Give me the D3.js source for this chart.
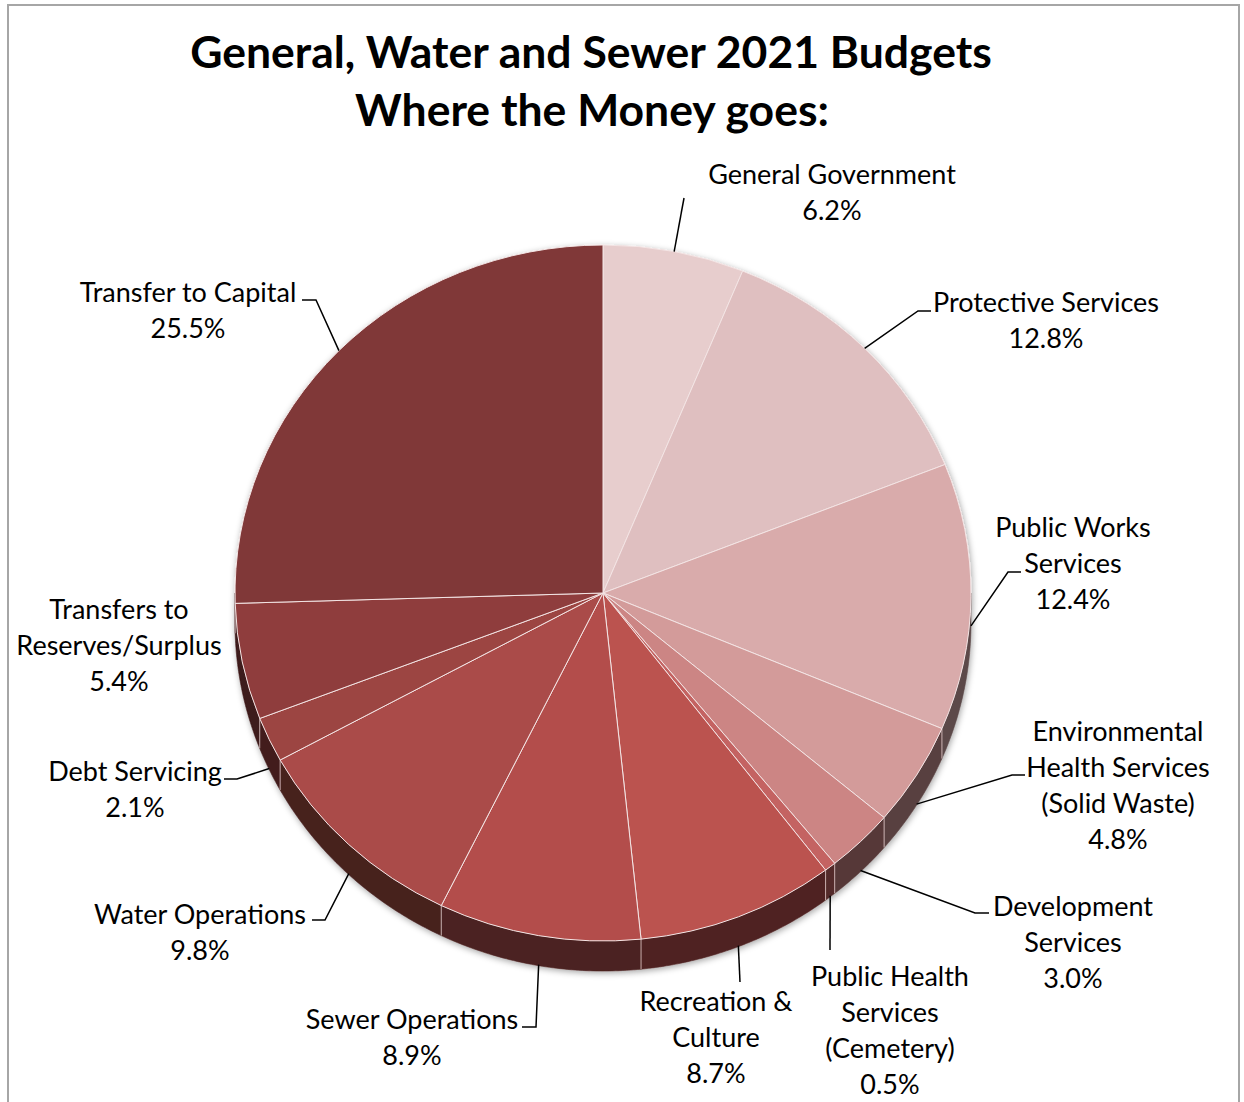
<!DOCTYPE html>
<html>
<head>
<meta charset="utf-8">
<script src="https://cdn.jsdelivr.net/npm/d3@7"></script>
<style>
  html, body { margin: 0; padding: 0; background: #fff; }
  svg { display: block; }
</style>
</head>
<body>
<svg id="chart" width="1244" height="1102"></svg>
<script>
// ---- data ----
const categories = [
  "General Government", "Protective Services", "Public Works Services",
  "Environmental Health Services (Solid Waste)", "Development Services",
  "Public Health Services (Cemetery)", "Recreation & Culture", "Sewer Operations",
  "Water Operations", "Debt Servicing", "Transfers to Reserves/Surplus", "Transfer to Capital"
];
const values = [6.2, 12.8, 12.4, 4.8, 3.0, 0.5, 8.7, 8.9, 9.8, 2.1, 5.4, 25.5];
const labelLines = [
  ["General Government"], ["Protective Services"], ["Public Works", "Services"],
  ["Environmental", "Health Services", "(Solid Waste)"], ["Development", "Services"],
  ["Public Health", "Services", "(Cemetery)"], ["Recreation &", "Culture"], ["Sewer Operations"],
  ["Water Operations"], ["Debt Servicing"], ["Transfers to", "Reserves/Surplus"], ["Transfer to Capital"]
];
const colors = ["#e7cdcd", "#dfbfc0", "#d9abab", "#d39b9a", "#cc8584", "#c46462",
                "#bb524f", "#b34e4b", "#aa4b49", "#9c4543", "#8f3e3d", "#803838"];
const titleLines = ["General, Water and Sewer 2021 Budgets", "Where the Money goes:"];

// ---- layout (positions only) ----
const labelPos = [ // [center x, first line center y]
  [832, 174], [1046, 302], [1073, 527], [1118, 731], [1073, 906], [890, 976],
  [716, 1001], [412, 1019], [200, 914], [135, 771], [119, 609], [188, 292]
];
const leaderPts = [
  [[684, 198]], [[918, 311], [931, 311]], [[1008, 572], [1021, 572]],
  [[1012, 775], [1025, 775]], [[975, 913], [989, 913]], [[830, 950]],
  [[740, 982]], [[536, 1027], [522, 1027]], [[325, 920], [312, 920]],
  [[237, 779], [224, 779]], null, [[316, 300], [302, 300]]
];

const W = 1244, H = 1102;
const cx = 603, cy = 593, rx = 368, ry = 348, depth = 30;
const FONT = "Lato, 'Open Sans', sans-serif";

const svg = d3.select("#chart");
const defs = svg.append("defs");
const flt = defs.append("filter").attr("id", "shadow")
  .attr("x", "-10%").attr("y", "-10%").attr("width", "120%").attr("height", "120%");
flt.append("feDropShadow").attr("dx", 1).attr("dy", 2).attr("stdDeviation", 3)
  .attr("flood-color", "#000").attr("flood-opacity", 0.35);

// frame
svg.append("rect").attr("x", 8).attr("y", 5).attr("width", 1231).attr("height", 1110)
  .attr("fill", "none").attr("stroke", "#a6a6a6").attr("stroke-width", 2);

// title
const title = svg.append("g").attr("font-family", FONT).attr("font-weight", 700)
  .attr("text-anchor", "middle").attr("fill", "#000");
const t1 = title.append("text").attr("x", 591).attr("y", 68).text(titleLines[0]);
const t2 = title.append("text").attr("x", 592).attr("y", 126).text(titleLines[1]);
// fit title size to reference width
t1.attr("font-size", 40);
const w1 = t1.node().getComputedTextLength();
const fs = 40 * 802 / w1;
t1.attr("font-size", fs); t2.attr("font-size", fs);

// pie
const pie = d3.pie().sort(null).value(d => d)(values);
const pt = (a, dy = 0) => [cx + rx * Math.sin(a), cy - ry * Math.cos(a) + dy];

const g = svg.append("g").attr("filter", "url(#shadow)");

// side walls (front half only: angles between PI/2 and 3PI/2)
const sideG = g.append("g");
const lo = Math.PI / 2, hi = 3 * Math.PI / 2;
pie.forEach((p, i) => {
  const a0 = Math.max(p.startAngle, lo), a1 = Math.min(p.endAngle, hi);
  if (a1 <= a0) return;
  const n = Math.max(4, Math.ceil((a1 - a0) / 0.01));
  const top = d3.range(n + 1).map(k => pt(a0 + (a1 - a0) * k / n));
  const bot = top.map(q => [q[0], q[1] + depth]).reverse();
  const c = d3.rgb(colors[i]);
  const side = d3.rgb(c.r * 0.42, c.g * 0.42, c.b * 0.42);
  sideG.append("path")
    .attr("d", d3.line()(top.concat(bot)) + "Z")
    .attr("fill", side).attr("stroke", side).attr("stroke-width", 0.6);
});
// separators on side
pie.forEach(p => {
  const a = p.startAngle;
  if (a > lo && a < hi) {
    const q = pt(a);
    sideG.append("line").attr("x1", q[0]).attr("y1", q[1]).attr("x2", q[0]).attr("y2", q[1] + depth)
      .attr("stroke", "#e9d3d3").attr("stroke-width", 1).attr("opacity", 0.8);
  }
});

// top faces
const arc = d3.arc().innerRadius(0).outerRadius(rx);
g.append("g").attr("transform", `translate(${cx},${cy}) scale(1,${ry / rx})`)
  .selectAll("path").data(pie).join("path")
  .attr("d", arc)
  .attr("fill", (d, i) => colors[i])
  .attr("stroke", "#f3e4e4").attr("stroke-width", 1)
  .attr("vector-effect", "non-scaling-stroke")
  .attr("stroke-linejoin", "round");

// leader lines
const leaders = svg.append("g").attr("fill", "none").attr("stroke", "#000").attr("stroke-width", 1.5);
pie.forEach((p, i) => {
  if (!leaderPts[i]) return;
  const mid = (p.startAngle + p.endAngle) / 2;
  const front = Math.cos(mid) < 0;
  const a = pt(mid, front ? depth - 1 : 0);
  leaders.append("path").attr("d", d3.line()([a].concat(leaderPts[i])));
});

// labels
const labels = svg.append("g").attr("font-family", FONT).attr("font-size", 27)
  .attr("text-anchor", "middle").attr("fill", "#000");
labelLines.forEach((lines, i) => {
  const [x, y0] = labelPos[i];
  const all = lines.concat([values[i].toFixed(1) + "%"]);
  const t = labels.append("text").attr("x", x).attr("y", y0).attr("dy", "0.36em");
  all.forEach((s, k) => {
    t.append("tspan").attr("x", x).attr("y", y0 + k * 36).attr("dy", "0.36em").text(s);
  });
});
</script>
</body>
</html>
